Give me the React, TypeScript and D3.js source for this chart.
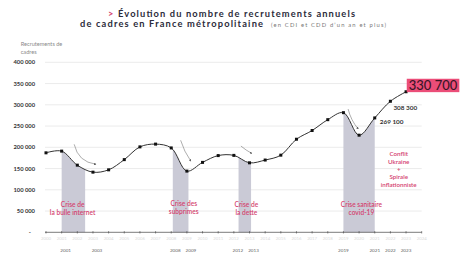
import React from "react";
import * as d3 from "d3";

// Annual executive hires in metropolitan France (CDI + CDD of one year or more)
const years = [2000, 2001, 2002, 2003, 2004, 2005, 2006, 2007, 2008, 2009, 2010, 2011,
  2012, 2013, 2014, 2015, 2016, 2017, 2018, 2019, 2020, 2021, 2022, 2023];
const hires = [187000, 191000, 158000, 141500, 147000, 171000, 201000, 207500, 198500,
  144000, 164500, 180500, 181000, 163500, 170000, 181500, 219000, 239500, 265000, 281500,
  228500, 269100, 308300, 330700];

const axisYears = d3.range(2000, 2025);
const highlightedYears = [2001, 2003, 2008, 2009, 2012, 2013, 2019, 2021, 2022, 2023];
const yTicks = [0, 50000, 100000, 150000, 200000, 250000, 300000, 350000, 400000];

// Crisis periods (shaded under the curve) and their captions
const crisisStart = [2001, 2008.1, 2012.3, 2019];
const crisisEnd = [2002.5, 2009.1, 2013.1, 2021];
const crisisLines = [
  ["Crise de", "la bulle internet"],
  ["Crise des", "subprimes"],
  ["Crise de", "la dette"],
  ["Crise sanitaire", "covid-19"],
];
const crisisLabelYear = [2001.7, 2008.8, 2012.8, 2020.15];
const crisisLabelValue = [59000, 63000, 59000, 59000];

// Arrows pointing to each downturn: [year, value] start and end
const arrowFrom: [number, number][] = [[2001.8, 207000], [2008.6, 216500], [2012.45, 203000], [2019.3, 290000]];
const arrowTo: [number, number][] = [[2003.2, 160000], [2009.25, 167500], [2013.15, 185500], [2019.95, 243000]];
const arrowBend = [0.35, 0.08, 0.05, 0.12];

const ukraineLines = ["Conflit", "Ukraine", "+", "Spirale", "inflationniste"];

const W = 460;
const H = 259;
const PINK = "#d4436f";
const FONT = "Lato, 'Open Sans', sans-serif";

export default function App() {
  const x = d3.scaleLinear().domain([2000, 2024]).range([46, 421.7]);
  const y = d3.scaleLinear().domain([0, 400000]).range([232.3, 62.3]);
  const pts: [number, number][] = years.map((yr, i) => [yr, hires[i]]);
  const curve = d3.curveCatmullRom.alpha(0.5);
  const line = d3.line<[number, number]>().x(d => x(d[0])).y(d => y(d[1])).curve(curve);
  const area = d3.area<[number, number]>().x(d => x(d[0])).y0(y(0)).y1(d => y(d[1])).curve(curve);
  const fmt = (v: number) => (v === 0 ? "-" : d3.format(",")(v).replace(/,/g, " "));

  const arrowPath = (i: number) => {
    const [x0, y0] = [x(arrowFrom[i][0]), y(arrowFrom[i][1])];
    const [x1, y1] = [x(arrowTo[i][0]), y(arrowTo[i][1])];
    const mx = (x0 + x1) / 2, my = (y0 + y1) / 2;
    const dx = x1 - x0, dy = y1 - y0;
    const b = arrowBend[i];
    return `M${x0},${y0} Q${mx - dy * b},${my + dx * b} ${x1},${y1}`;
  };

  const last = pts[pts.length - 1];

  return (
    <svg width={W} height={H} style={{ position: "absolute", left: 0, top: 0, background: "#fff" }}
      fontFamily={FONT}>
      <defs>
        {crisisStart.map((s, i) => (
          <clipPath id={`crisis-${i}`} key={i}>
            <rect x={x(s)} y={0} width={x(crisisEnd[i]) - x(s)} height={H} />
          </clipPath>
        ))}
        <marker id="arrowhead" viewBox="0 0 6 6" refX="5" refY="3" markerWidth="4" markerHeight="4" orient="auto">
          <path d="M0,0 L6,3 L0,6 Z" fill="#555" />
        </marker>
      </defs>

      {/* Title */}
      <text x={108} y={17} fontSize={9.3} fontWeight={700} fill="#2b2b3a"
        textLength={247} lengthAdjust="spacing">
        <tspan fill={PINK}>&gt; </tspan>Évolution du nombre de recrutements annuels
      </text>
      <text x={80} y={27.2} fontSize={9.3} fontWeight={700} fill="#2b2b3a"
        textLength={183} lengthAdjust="spacing">
        de cadres en France métropolitaine
      </text>
      <text x={271} y={27} fontSize={5.8} fill="#777" textLength={115} lengthAdjust="spacing">
        (en CDI et CDD d’un an et plus)
      </text>

      {/* Y axis title */}
      <text x={20.7} y={46} fontSize={5.6} fill="#8a8a8a">Recrutements de</text>
      <text x={20.7} y={54} fontSize={5.6} fill="#8a8a8a">cadres</text>

      {/* Grid and y labels */}
      {yTicks.map(t => (
        <g key={t}>
          {t > 0 && <line x1={45} x2={421.7} y1={y(t)} y2={y(t)} stroke="#e6e6e6" strokeWidth={0.8} />}
          <text x={t === 0 ? 31 : 35} y={y(t) + 2} textAnchor="end" fontSize={5.8} fontWeight={700} fill="#333">
            {fmt(t)}
          </text>
        </g>
      ))}

      {/* Crisis shading under the curve */}
      {crisisStart.map((_, i) => (
        <path key={i} d={area(pts) || ""} clipPath={`url(#crisis-${i})`} fill="#cacad6" />
      ))}

      {/* X axis */}
      <line x1={45} x2={421.7} y1={y(0)} y2={y(0)} stroke="#444" strokeWidth={0.7} />
      {axisYears.map(yr => (
        <g key={yr}>
          <line x1={x(yr)} x2={x(yr)} y1={y(0) - 1.2} y2={y(0) + 1.2} stroke="#444" strokeWidth={0.6} />
          <text x={x(yr)} y={240} textAnchor="middle" fontSize={4.3} fill="#dadada">{yr}</text>
        </g>
      ))}
      {highlightedYears.map(yr => (
        <text key={yr} x={x(yr) + (yr < 2015 ? 4 : 0)} y={252} textAnchor="middle" fontSize={4.6} fill="#666">
          {yr}
        </text>
      ))}

      {/* Arrows */}
      {arrowFrom.map((_, i) => (
        <path key={i} d={arrowPath(i)} fill="none" stroke="#777" strokeWidth={0.6} markerEnd="url(#arrowhead)" />
      ))}

      {/* Series */}
      <path d={line(pts) || ""} fill="none" stroke="#333" strokeWidth={1} />
      {pts.map(p => (
        <rect key={p[0]} x={x(p[0]) - 1.5} y={y(p[1]) - 1.5} width={3} height={3} fill="#111" />
      ))}

      {/* Crisis captions */}
      {crisisLines.map((lines, i) => (
        <text key={i} x={x(crisisLabelYear[i])} y={y(crisisLabelValue[i])} textAnchor="middle"
          fontSize={6.6} fontWeight={600} fill={PINK}>
          {lines.map((l, j) => (
            <tspan key={j} x={x(crisisLabelYear[i])} dy={j === 0 ? 0 : 8}>{l}</tspan>
          ))}
        </text>
      ))}
      <text x={398.7} y={156} textAnchor="middle" fontSize={6.2} fontWeight={600} fill={PINK}>
        {ukraineLines.map((l, j) => (
          <tspan key={j} x={398.7} dy={j === 0 ? 0 : 7.8}>{l}</tspan>
        ))}
      </text>

      {/* Value labels */}
      <text x={x(2022) + 3} y={y(308300) + 8.5} fontSize={6.4} fontWeight={700} fill="#333">
        {fmt(308300)}
      </text>
      <text x={x(2021) + 5} y={y(269100) + 6.5} fontSize={6.4} fontWeight={700} fill="#333">
        {fmt(269100)}
      </text>
      <rect x={x(last[0]) + 0.7} y={y(last[1]) - 13} width={52.6} height={13.4} fill="#eb4d78" />
      <text x={x(last[0]) + 27} y={y(last[1]) - 1.8} textAnchor="middle" fontSize={13} fontWeight={500} fill="#3a1526">
        {fmt(last[1])}
      </text>
    </svg>
  );
}
